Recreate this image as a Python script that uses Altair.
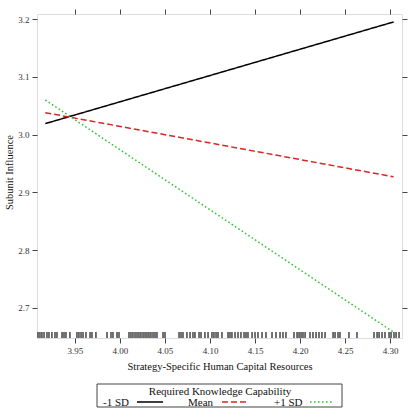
import altair as alt
import pandas as pd

# ---- data ----
series = ["-1 SD", "Mean", "+1 SD"]
colors = ["#000000", "#d92626", "#2ec42e"]
x_start = [3.917, 3.917, 3.917]
x_end = [4.304, 4.304, 4.304]
y_start = [3.019, 3.038, 3.060]
y_end = [3.195, 2.927, 2.658]

rug_x = [3.9089, 3.9111, 3.9133, 3.9156, 3.9189, 3.9211, 3.9244, 3.9278, 3.9300,
         3.9356, 3.9378, 3.9400, 3.9444, 3.9522, 3.9544, 3.9567, 3.9589, 3.9622,
         3.9667, 3.9689, 3.9733, 3.9856, 3.9900, 3.9922, 3.9967, 3.9989, 4.0100,
         4.0122, 4.0144, 4.0167, 4.0189, 4.0211, 4.0233, 4.0256, 4.0278, 4.0300,
         4.0322, 4.0344, 4.0367, 4.0389, 4.0411, 4.0478, 4.0500, 4.0656, 4.0678,
         4.0700, 4.0744, 4.0778, 4.0811, 4.0833, 4.0878, 4.0900, 4.0944, 4.0978,
         4.1022, 4.1044, 4.1067, 4.1089, 4.1133, 4.1200, 4.1222, 4.1244, 4.1278,
         4.1311, 4.1344, 4.1378, 4.1400, 4.1422, 4.1467, 4.1500, 4.1533, 4.1578,
         4.1622, 4.1689, 4.1733, 4.1778, 4.1811, 4.1844, 4.1933, 4.1967, 4.1989,
         4.2011, 4.2033, 4.2056, 4.2111, 4.2144, 4.2178, 4.2211, 4.2244, 4.2278,
         4.2367, 4.2389, 4.2422, 4.2444, 4.2544, 4.2633, 4.2822, 4.2856, 4.2878,
         4.2911, 4.2944, 4.2989, 4.3011, 4.3044, 4.3067, 4.3100]

x_ticks = [3.95, 4.00, 4.05, 4.10, 4.15, 4.20, 4.25, 4.30]
y_ticks = [2.7, 2.8, 2.9, 3.0, 3.1, 3.2]
x_domain = [3.9078, 4.3133]
y_domain = [2.648, 3.2087]

x_title = "Strategy-Specific Human Capital Resources"
y_title = "Subunit Influence"
legend_title = "Required Knowledge Capability"

# ---- tables ----
rows = []
for s, x0, x1, y0, y1 in zip(series, x_start, x_end, y_start, y_end):
    rows.append({"series": s, "x": x0, "y": y0})
    rows.append({"series": s, "x": x1, "y": y1})
lines_df = pd.DataFrame(rows)
rug_df = pd.DataFrame({"x": rug_x})

FONT = "Liberation Serif"
W, H = 365, 324
dashes = [[1, 0], [6, 3], [1.6, 2.4]]

xs = alt.Scale(domain=x_domain, nice=False, zero=False)
ys = alt.Scale(domain=y_domain, nice=False, zero=False)

common_axis = dict(grid=False, domain=False, tickSize=5, tickColor="#444",
                   labelFont=FONT, labelFontSize=9, labelColor="#333",
                   titleFont=FONT, titleFontSize=10.5, titleFontWeight="normal",
                   titleColor="#111")

lines = alt.Chart(lines_df).mark_line(strokeWidth=1.5).encode(
    x=alt.X("x:Q", scale=xs,
            axis=alt.Axis(values=x_ticks, format=".2f", orient="bottom",
                          title=x_title, labelPadding=3, titlePadding=6,
                          **common_axis)),
    y=alt.Y("y:Q", scale=ys,
            axis=alt.Axis(values=y_ticks, format=".1f", orient="left",
                          title=y_title, labelPadding=3, titleX=-23, titleY=158,
                          **common_axis)),
    color=alt.Color("series:N", scale=alt.Scale(domain=series, range=colors), legend=None),
    strokeDash=alt.StrokeDash("series:N", scale=alt.Scale(domain=series, range=dashes), legend=None),
    detail="series:N",
)

ghost = alt.Chart(lines_df).mark_point(opacity=0).encode(
    x=alt.X("x:Q", scale=xs,
            axis=alt.Axis(values=x_ticks, orient="top", labels=False, title=None,
                          grid=False, domain=False, tickSize=5, tickColor="#444")),
    y=alt.Y("y:Q", scale=ys,
            axis=alt.Axis(values=y_ticks, orient="right", labels=False, title=None,
                          grid=False, domain=False, tickSize=5, tickColor="#444")),
)

rug = alt.Chart(rug_df).mark_rule(color="#000", strokeWidth=1.1).encode(
    x=alt.X("x:Q", scale=xs, axis=None),
    y=alt.value(H - 6),
    y2=alt.value(H),
)

# ---- legend (drawn below the panel) ----
one = pd.DataFrame({"k": [0]})
box = alt.Chart(one).mark_rect(fill="white", stroke="#444", strokeWidth=1).encode(
    x=alt.value(60), x2=alt.value(305), y=alt.value(370), y2=alt.value(393))
ltitle = alt.Chart(one).mark_text(font=FONT, fontSize=11, align="center",
                                  baseline="middle", color="#111").encode(
    x=alt.value(183), y=alt.value(378), text=alt.value(legend_title))

legend_layers = [box, ltitle]
label_x = [66, 151, 237]
line_x = [(100, 126), (185, 212), (273, 297)]
for i, s in enumerate(series):
    legend_layers.append(
        alt.Chart(one).mark_text(font=FONT, fontSize=11, align="left",
                                 baseline="alphabetic", color="#111").encode(
            x=alt.value(label_x[i]), y=alt.value(392), text=alt.value(s)))
    legend_layers.append(
        alt.Chart(one).mark_rule(color=colors[i], strokeWidth=1.6,
                                 strokeDash=dashes[i]).encode(
            x=alt.value(line_x[i][0]), x2=alt.value(line_x[i][1]), y=alt.value(388)))

chart = alt.layer(lines, ghost, rug, *legend_layers).resolve_axis(
    x="independent", y="independent"
).properties(
    width=W, height=H,
    autosize=alt.AutoSizeParams(type="none"),
    padding={"left": 37, "top": 14, "right": 7, "bottom": 76},
).configure_view(stroke="#444", strokeWidth=1).configure(background="white")

chart.save("out.html", embed_options={"renderer": "svg", "actions": False})
